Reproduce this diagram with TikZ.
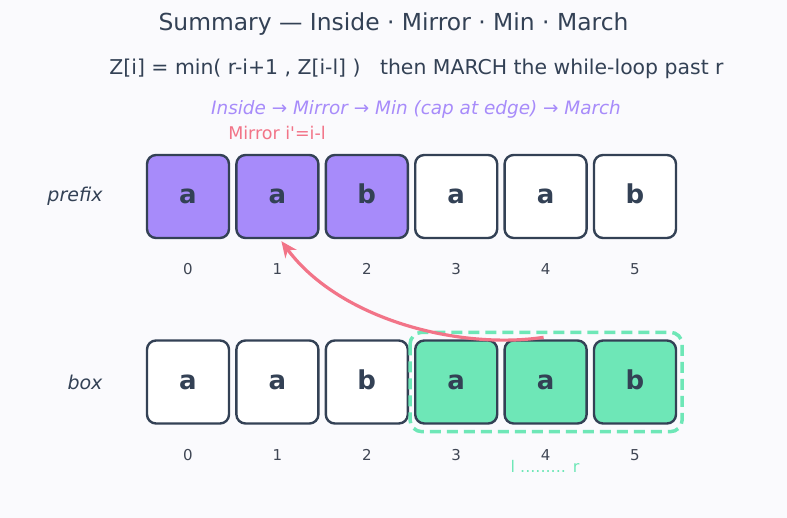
\documentclass[tikz,border=0pt]{standalone}
\usepackage{fontspec}
\setmainfont{DejaVu Sans}
\usetikzlibrary{positioning,arrows.meta}
\definecolor{ink}{HTML}{334155}
\definecolor{bgc}{HTML}{FAFAFD}
\definecolor{purp}{HTML}{A78BFA}
\definecolor{mint}{HTML}{6EE7B7}
\definecolor{rose}{HTML}{F27488}
\definecolor{idxgray}{HTML}{3F4654}

\begin{document}
\begin{tikzpicture}[x=1pt,y=-1pt,
	cell/.style={draw=ink,line width=2.4pt,rounded corners=9pt,minimum width=82pt,minimum height=83pt,inner sep=0pt,text height=15pt,text depth=0pt,text=ink,font=\fontsize{26}{26}\selectfont\bfseries},
	idx/.style={text=idxgray,font=\fontsize{15}{15}\selectfont},
	rowlbl/.style={text=ink,font=\fontsize{19}{19}\selectfont\itshape}]
	\fill[bgc] (0,0) rectangle (787,518);
	\node[text=ink,font=\fontsize{23.4}{23.4}\selectfont] (title) at (393.5,24) {Summary — Inside · Mirror · Min · March};
	\node[text=ink,font=\fontsize{20.4}{20.4}\selectfont] (rule) at (416.5,69) {Z[i] = min( r-i+1 , Z[i-l] ) \ \ then MARCH the while-loop past r};
	\node[text=purp,font=\fontsize{18.4}{18.4}\selectfont\itshape] (steps) at (416,109) {Inside → Mirror → Min (cap at edge) → March};
	\node[text=rose,font=\fontsize{17.5}{17.5}\selectfont] (mirror) at (277,133) {Mirror i\textquotesingle=i-l};
	% the two rows
	\node[rowlbl] (prefix) at (75,196) {prefix};
	\node[rowlbl] (box) at (85,382) {box};
	\foreach \ch/\fc [count=\i from 0] in {a/purp,a/purp,b/purp,a/white,a/white,b/white}{
		\node[cell,fill=\fc] (p\i) at (188+89.4*\i,196.5) {\ch};
		\node[idx] (pn\i) at (188+89.4*\i,269) {\i};
	}
	\foreach \ch/\fc [count=\i from 0] in {a/white,a/white,b/white,a/mint,a/mint,b/mint}{
		\node[cell,fill=\fc] (b\i) at (188+89.4*\i,382) {\ch};
		\node[idx] (bn\i) at (188+89.4*\i,455) {\i};
	}
	\draw[mint,line width=3.5pt,dash pattern=on 11pt off 6pt,rounded corners=12pt] ([shift={(-4,-7)}]b3.north west) rectangle ([shift={(5,7)}]b5.south east);
	\node[text=mint,font=\fontsize{16}{16}\selectfont] (lr) at (545,466) {l ......... r};
	\draw[rose,line width=3.2pt,-{Stealth[length=16pt,width=14pt,inset=5pt]}] ([xshift=-2pt,yshift=2pt]b4.north) .. controls (460,350) and (340,320) .. ([xshift=4pt,yshift=-2pt]p1.south);
\end{tikzpicture}
\end{document}
